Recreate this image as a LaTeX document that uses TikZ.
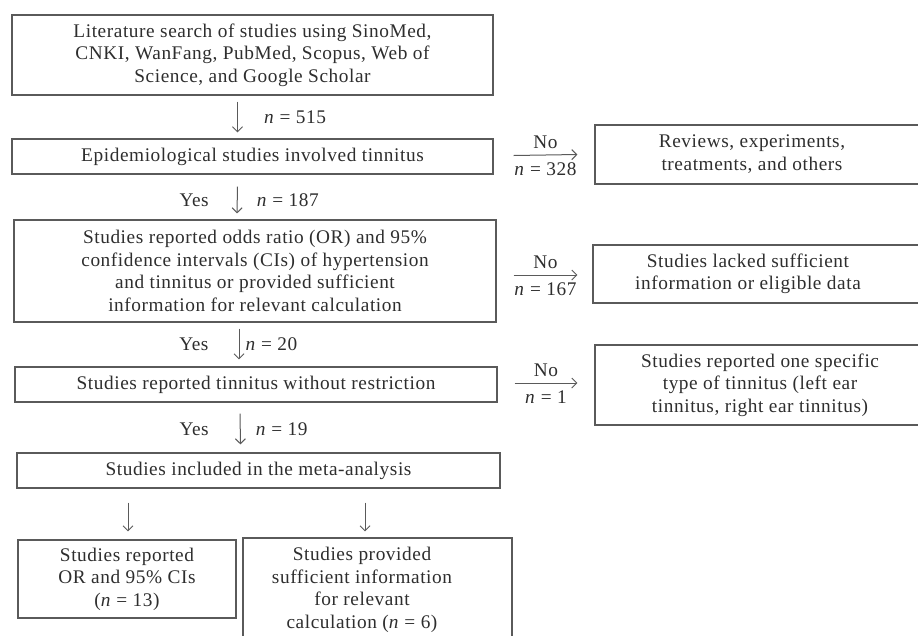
\documentclass[tikz,border=0pt]{standalone}
\usepackage{fontspec}
\setmainfont{Liberation Serif}[LetterSpace=3]
\usetikzlibrary{arrows.meta,calc}
\definecolor{linec}{HTML}{5A5A5A}
\definecolor{textc}{HTML}{2E2E2E}
\newcommand{\shiftlines}[2]{\hspace*{-#1}\begin{tabular}{@{}c@{}}#2\end{tabular}}
\begin{document}
\begin{tikzpicture}[x=1pt,y=-1pt,
  box/.style={draw=linec, line width=1.1pt, inner sep=0pt, align=center, text=textc,
    font=\fontsize{19.3}{22.5}\selectfont},
  sbox/.style={draw=linec, line width=1.1pt, inner sep=0pt, text=textc,
    font=\fontsize{19.3}{22.5}\selectfont},
  arr/.style={draw=linec, line width=1pt, -{Straight Barb[length=5pt,width=10pt]}},
  lbl/.style={text=textc, font=\fontsize{19.3}{20}\selectfont, inner sep=1pt}]
\clip (0,0) rectangle (918,635);
\useasboundingbox (0,0) rectangle (918,635);
\fill[white] (0,0) rectangle (918,635);

% main column
\node[box, minimum width=481, minimum height=80] (b1) at (252.5,55)
  {Literature search of studies using SinoMed,\\CNKI, WanFang, PubMed, Scopus, Web of\\Science, and Google Scholar};
\node[box, minimum width=481, minimum height=35] (b2) at (252.5,156.5)
  {Epidemiological studies involved tinnitus};
\node[box, minimum width=482, minimum height=102] (b3) at (255,271)
  {Studies reported odds ratio (OR) and 95\%\\confidence intervals (CIs) of hypertension\\and tinnitus or provided sufficient\\information for relevant calculation};
\node[box, minimum width=482, minimum height=35] (b4) at (256,384.5)
  {Studies reported tinnitus without restriction};
\node[box, minimum width=483, minimum height=35] (b5) at (258.5,470.5)
  {Studies included in the meta-analysis};
\node[box, minimum width=218, minimum height=78] (b6) at (127,579)
  {Studies reported\\OR and 95\% CIs\\(\textit{n} = 13)};
\node[sbox, minimum width=269, minimum height=104] (b7) at (377.5,590)
  {\shiftlines{31pt}{Studies provided\\sufficient information\\for relevant\\calculation (\textit{n} = 6)}};

% right column
\node[sbox, minimum width=340, minimum height=59] (r1) at (765,154.5)
  {\shiftlines{26pt}{Reviews, experiments,\\treatments, and others}};
\node[sbox, minimum width=342, minimum height=58] (r2) at (764,274)
  {\shiftlines{32pt}{Studies lacked sufficient\\information or eligible data}};
\node[sbox, minimum width=340, minimum height=80] (r3) at (765,385)
  {\shiftlines{10pt}{Studies reported one specific\\type of tinnitus (left ear\\tinnitus, right ear tinnitus)}};

% vertical arrows
\draw[arr] ($(b1.south)+(-15,6)$) -- ($(b2.north)+(-15,-6)$)
  node[lbl, midway, right=25pt] {\textit{n} = 515};
\draw[arr] ($(b2.south)+(-15,12)$) -- ($(b3.north)+(-18,-6)$)
  node[lbl, midway, right=18pt] {\textit{n} = 187}
  node[lbl, midway, left=27pt] {Yes};
\draw[arr] ($(b3.south)+(-16,6)$) -- ($(b4.north)+(-17,-7)$)
  node[lbl, midway, right=5pt] {\textit{n} = 20}
  node[lbl, midway, left=29pt] {Yes};
\draw[arr] ($(b4.south)+(-16,11)$) -- ($(b5.north)+(-18,-8)$)
  node[lbl, midway, right=14pt] {\textit{n} = 19}
  node[lbl, midway, left=30pt] {Yes};
\draw[arr] ($(b5.south)+(-130.5,14)$) -- ($(b6.north)+(1,-8)$);
\draw[arr] ($(b5.south)+(106.5,14)$) -- ($(b7.north)+(-12.5,-6)$);

% horizontal arrows
\draw[arr] ($(b2.east)+(20,-1)$) -- ($(r1.west)+(-17,0)$)
  node[lbl, midway, above=5pt] {No}
  node[lbl, midway, below=6pt] {\textit{n} = 328};
\draw[arr] ($(b3.east)+(17,4)$) -- ($(r2.west)+(-15,1)$)
  node[lbl, midway, above=5pt] {No}
  node[lbl, midway, below=6pt] {\textit{n} = 167};
\draw[arr] ($(b4.east)+(17,-1.5)$) -- ($(r3.west)+(-17,-2)$)
  node[lbl, midway, above=5pt] {No}
  node[lbl, midway, below=6pt] {\textit{n} = 1};
\end{tikzpicture}
\end{document}
